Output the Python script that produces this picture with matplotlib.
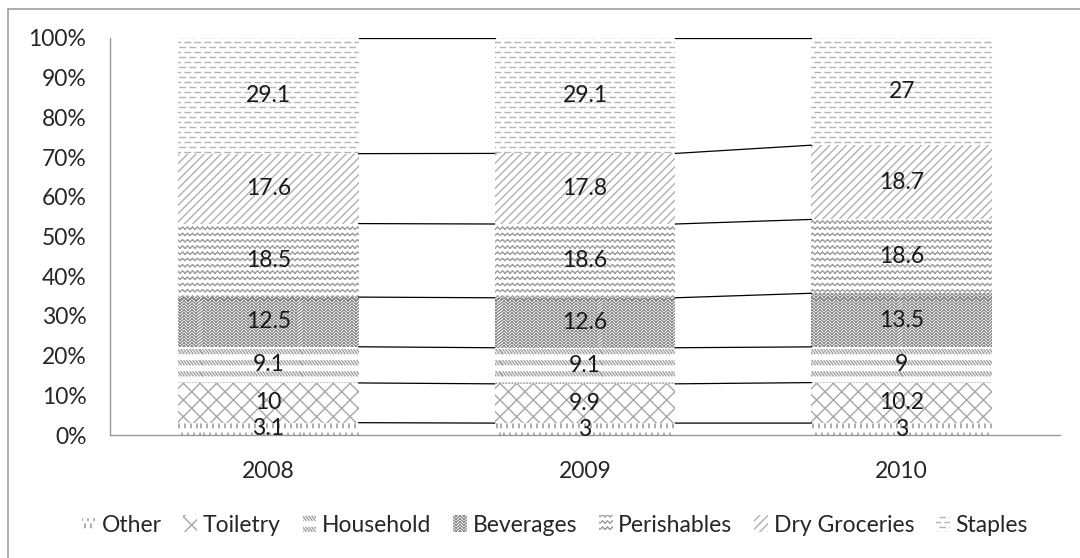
import matplotlib
matplotlib.use("Agg")
import matplotlib.pyplot as plt
import numpy as np
from matplotlib.patches import Rectangle
from matplotlib import hatch as mhatch
from matplotlib.path import Path

plt.rcParams['font.family'] = ['Lato', 'DejaVu Sans']
plt.rcParams['hatch.linewidth'] = 1.0

years = ['2008', '2009', '2010']
series = ['Other', 'Toiletry', 'Household', 'Beverages', 'Perishables', 'Dry Groceries', 'Staples']
other = [3.1, 3, 3]
toiletry = [10, 9.9, 10.2]
household = [9.1, 9.1, 9]
beverages = [12.5, 12.6, 13.5]
perishables = [18.5, 18.6, 18.6]
dry_groceries = [17.6, 17.8, 18.7]
staples = [29.1, 29.1, 27]
labels = [['3.1', '3', '3'], ['10', '9.9', '10.2'], ['9.1', '9.1', '9'],
          ['12.5', '12.6', '13.5'], ['18.5', '18.6', '18.6'],
          ['17.6', '17.8', '18.7'], ['29.1', '29.1', '27']]


# ---------- custom Excel-like hatch patterns (tile = 100 px) ----------
def _clip(p0, p1):
    x0, y0 = p0; x1, y1 = p1
    dx, dy = x1 - x0, y1 - y0
    t0, t1 = 0.0, 1.0
    for p, q in ((-dx, x0), (dx, 100 - x0), (-dy, y0), (dy, 100 - y0)):
        if p == 0:
            if q < 0:
                return None
        else:
            t = q / p
            if p < 0:
                t0 = max(t0, t)
            else:
                t1 = min(t1, t)
    if t0 >= t1:
        return None
    return (x0 + t0 * dx, y0 + t0 * dy), (x0 + t1 * dx, y0 + t1 * dy)


def _tile(segs):
    out = []
    for (a, b) in segs:
        for sx in (-100, 0, 100):
            for sy in (-100, 0, 100):
                c = _clip((a[0] + sx, a[1] + sy), (b[0] + sx, b[1] + sy))
                if c is not None and (abs(c[0][0] - c[1][0]) + abs(c[0][1] - c[1][1])) > 1e-6:
                    out.append(c)
    return out


def _staples():
    segs = []
    for r in range(20):
        y = r * 5 + 2.5
        off = 0 if r % 2 == 0 else 5
        for k in range(10):
            x = k * 10 + off
            segs.append(((x, y), (x + 5.5, y)))
    return segs


def _perish():
    segs = []
    for r in range(16):
        y = r * 6.25 + 3
        xs = np.arange(0, 101, 2.5)
        ys = y + np.where(np.arange(len(xs)) % 2 == 0, -1.0, 1.0)
        for i in range(len(xs) - 1):
            segs.append(((xs[i], ys[i]), (xs[i + 1], ys[i + 1])))
    return segs


def _other():
    segs = []
    for r in range(14):
        y = r * 7.14 + 1
        off = 0 if r % 2 == 0 else 3
        ln = 3.5 if r % 2 == 0 else 1.5
        for k in range(17):
            x = k * 6 + off + 1
            segs.append(((x, y), (x, y + ln)))
    return segs


def _household():
    segs = []
    for r in range(9):
        y = r * 11.1 + 2
        for k in range(34):
            x = k * 3
            segs.append(((x, y + 4), (x + 3, y)))
    return segs


def _herring():
    segs = []
    for r in range(34):
        y = r * 3
        xs = np.arange(0, 101, 4)
        ys = y + np.where(np.arange(len(xs)) % 2 == 0, 0.0, 3.0)
        for i in range(len(xs) - 1):
            segs.append(((xs[i], ys[i]), (xs[i + 1], ys[i + 1])))
    return segs


_CUSTOM = {'o': _tile(_staples()), 'O': _tile(_perish()), '*': _tile(_other()),
           '.': _tile(_household()), 'oo': _tile(_herring())}


class _ExcelHatch(mhatch.HatchPatternBase):
    def __init__(self, hatch, density):
        self.segs = _CUSTOM.get(hatch, [])
        self.num_vertices = 2 * len(self.segs)

    def set_vertices_and_codes(self, vertices, codes):
        for i, (a, b) in enumerate(self.segs):
            vertices[2 * i] = (a[0] / 100.0, a[1] / 100.0)
            vertices[2 * i + 1] = (b[0] / 100.0, b[1] / 100.0)
            codes[2 * i] = Path.MOVETO
            codes[2 * i + 1] = Path.LINETO


mhatch._hatch_types[:] = [mhatch.HorizontalHatch, mhatch.VerticalHatch,
                          mhatch.NorthEastHatch, mhatch.SouthEastHatch, _ExcelHatch]
# ----------------------------------------------------------------------

values = np.array([other, toiletry, household, beverages, perishables, dry_groceries, staples], dtype=float)
hatches = ['*', 'xx', '.', 'oo', 'O', '////', 'o']
hcolors = ['#8c8c8c', '#a6a6a6', '#a0a0a0', '#8a8a8a', '#a0a0a0', '#b0b0b0', '#b4b4b4']

fig = plt.figure(figsize=(10.8, 5.58), dpi=100)
ax = fig.add_axes([110 / 1080, 1 - 435 / 558, 950 / 1080, 397 / 558])

totals = values.sum(axis=0)
pct = values / totals * 100
x = np.arange(len(years))
width = 0.571
bottom = np.zeros(len(years))
for i, name in enumerate(series):
    ax.bar(x, pct[i], width, bottom=bottom, color='white', edgecolor=hcolors[i],
           linewidth=0, hatch=hatches[i], label=name)
    for j in range(len(years)):
        ax.text(x[j], bottom[j] + pct[i][j] / 2, labels[i][j], ha='center', va='center',
                fontsize=16.5, color='#1a1a1a')
    bottom = bottom + pct[i]

# series lines
cum = np.cumsum(pct, axis=0)
for i in range(cum.shape[0]):
    for j in range(len(years) - 1):
        ax.plot([x[j] + width / 2, x[j + 1] - width / 2], [cum[i][j], cum[i][j + 1]],
                color='black', linewidth=0.9)

ax.set_xlim(-0.5, 2.5)
ax.set_ylim(0, 100)
ax.set_yticks(np.arange(0, 101, 10))
ax.set_yticklabels([f'{v}%' for v in range(0, 101, 10)])
ax.set_xticks(x)
ax.set_xticklabels(years)
ax.tick_params(axis='both', length=0, labelsize=16.5, colors='#262626')
ax.tick_params(axis='x', pad=19)
ax.tick_params(axis='y', pad=17)
for s in ['top', 'right']:
    ax.spines[s].set_visible(False)
for s in ['left', 'bottom']:
    ax.spines[s].set_color('#999999')
    ax.spines[s].set_linewidth(1)

leg = fig.legend(loc='center', bbox_to_anchor=(555 / 1080, 1 - 525 / 558), ncol=7, frameon=False,
                 fontsize=16.5, handlelength=0.6, handleheight=0.7, handletextpad=0.25,
                 columnspacing=0.95, labelcolor='#262626')

fig.patches.append(Rectangle((8 / 1080, -0.1), 1.2, 1.1 - 9 / 558, transform=fig.transFigure,
                             fill=False, edgecolor='#a0a0a0', linewidth=1.2))

fig.savefig('out.png', dpi=100)
